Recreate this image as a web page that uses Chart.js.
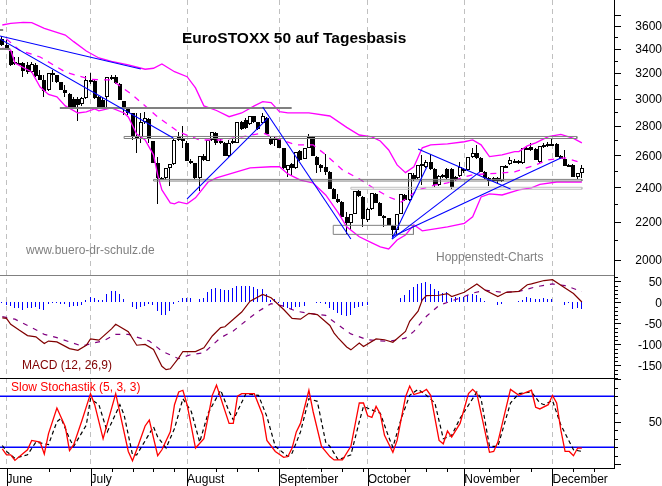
<!DOCTYPE html>
<html><head><meta charset="utf-8">
<style>html,body{margin:0;padding:0;background:#fff}canvas{display:block}</style>
<script src="https://cdn.jsdelivr.net/npm/chart.js@4"></script>
</head><body><canvas id="c" width="662" height="486" style="width:662px;height:486px"></canvas>
<script>
const monthIdx=[1,21,44,66,87,110,131];
const monthNames=['June','July','August','September','October','November','December'];
const weekIdx=[11,16,26,31,36,41,51,56,61,76,81,86,96,101,106,116,121,126,136,141];
const opens=[3485,3432,3381,3289,3280,3280,3264,3207,3264,3183,3143,3065,3191,3183,3127,3065,3035,2997,2997,2960,3004,3143,3135,3012,2989,3012,3159,3167,3111,2982,2930,2893,2724,2724,2828,2850,2696,2552,2457,2457,2520,2546,2724,2710,2683,2565,2552,2457,2597,2565,2703,2751,2696,2683,2597,2683,2683,2828,2842,2814,2871,2828,2821,2857,2717,2717,2710,2650,2507,2546,2520,2630,2578,2650,2724,2591,2539,2527,2495,2390,2331,2313,2228,2195,2245,2378,2342,2211,2273,2360,2308,2234,2222,2178,2156,2245,2354,2325,2476,2457,2533,2527,2558,2514,2414,2463,2514,2514,2463,2469,2514,2507,2591,2617,2584,2495,2457,2457,2457,2438,2527,2546,2565,2565,2552,2643,2656,2643,2558,2656,2663,2670,2676,2597,2578,2539,2539,2463,2488];
const highs=[3511,3476,3389,3330,3330,3289,3289,3289,3280,3223,3183,3199,3223,3183,3127,3104,3042,3012,3012,3012,3175,3199,3143,3019,3012,3167,3183,3183,3119,2982,2937,2893,2893,2893,2901,2857,2696,2591,2463,2520,2546,2717,2758,2800,2696,2578,2552,2597,2610,2703,2758,2758,2710,2690,2703,2717,2828,2835,2857,2871,2871,2828,2893,2864,2730,2724,2717,2650,2539,2552,2623,2636,2650,2744,2730,2597,2546,2610,2501,2396,2360,2319,2256,2245,2378,2384,2348,2279,2366,2366,2313,2240,2222,2184,2245,2360,2360,2488,2488,2539,2604,2571,2610,2520,2476,2482,2520,2520,2469,2558,2520,2591,2650,2670,2591,2501,2463,2463,2463,2533,2539,2591,2578,2571,2650,2663,2683,2650,2663,2683,2690,2717,2683,2604,2636,2546,2546,2488,2539];
const lows=[3424,3389,3256,3264,3264,3167,3191,3199,3167,3143,3012,3057,3127,3119,3065,3012,2930,2930,2835,2945,2997,3111,2997,2930,2930,2937,3143,3111,2989,2879,2879,2703,2617,2683,2814,2683,2552,2302,2451,2444,2408,2539,2696,2650,2565,2546,2451,2378,2565,2565,2696,2670,2676,2597,2591,2676,2683,2772,2779,2807,2821,2772,2814,2744,2670,2663,2650,2514,2463,2469,2514,2565,2578,2650,2597,2488,2495,2476,2390,2331,2308,2228,2135,2156,2245,2342,2173,2200,2267,2308,2234,2173,2184,2119,2129,2245,2319,2319,2440,2451,2414,2520,2507,2402,2408,2457,2451,2390,2438,2463,2488,2501,2584,2578,2495,2451,2408,2432,2420,2432,2520,2539,2552,2546,2546,2636,2630,2571,2552,2650,2656,2663,2591,2578,2533,2527,2463,2451,2457];
const closes=[3432,3398,3264,3272,3272,3215,3207,3272,3175,3143,3057,3199,3199,3127,3065,3042,2937,2937,2952,3004,3143,3127,3004,2937,2937,3167,3167,3119,2989,2930,2893,2724,2717,2828,2857,2710,2552,2457,2451,2520,2546,2703,2703,2703,2565,2552,2457,2597,2571,2703,2758,2683,2683,2597,2683,2696,2828,2779,2786,2871,2828,2779,2871,2744,2676,2703,2650,2520,2539,2520,2623,2571,2650,2724,2597,2539,2520,2495,2390,2331,2313,2228,2195,2245,2378,2348,2217,2273,2366,2308,2234,2222,2184,2156,2245,2360,2325,2488,2451,2539,2546,2558,2514,2414,2469,2476,2457,2402,2444,2527,2501,2591,2617,2584,2495,2457,2438,2438,2438,2533,2533,2571,2558,2558,2650,2650,2636,2571,2663,2670,2676,2676,2591,2578,2533,2533,2463,2488,2520];

const upperIdx=[0,2,5,7,10,15,17,20,23,26,30,34,36,38,41,44,46,48,51,54,57,60,62,64,66,68,73,78,82,85,88,90,92,94,96,98,100,102,106,110,112,114,116,119,122,123,125,127,130,133,136,138];
const upperVal=[3609,3624,3633,3630,3579,3519,3461,3381,3322,3293,3264,3229,3237,3272,3209,3169,3081,2945,2911,2866,2893,2945,2976,2969,2903,2893,2893,2871,2790,2737,2724,2696,2636,2539,2490,2527,2650,2670,2676,2691,2703,2670,2592,2604,2625,2625,2663,2683,2726,2741,2714,2683];
const lowerIdx=[0,2,3,7,9,11,13,15,18,20,22,23,26,29,30,32,34,36,37,38,40,41,42,44,46,49,51,55,59,64,66,68,71,74,77,80,82,85,88,90,92,94,96,98,100,103,106,110,112,114,116,119,123,126,128,132,138];
const lowerVal=[3406,3389,3280,3207,3088,3031,3012,2945,2893,2901,2922,2908,2930,2893,2864,2744,2703,2604,2476,2384,2308,2302,2313,2302,2337,2432,2457,2488,2520,2527,2527,2482,2444,2426,2354,2250,2173,2119,2087,2066,2055,2102,2129,2184,2151,2162,2173,2192,2228,2342,2360,2354,2384,2396,2417,2432,2432];
const midIdx=[1,4,9,15,21,26,31,37,42,47,52,57,62,65,70,74,77,81,85,88,92,95,99,103,106,110,112,115,119,122,127,130,134,138];
const midVal=[3485,3389,3330,3207,3147,3143,3027,2864,2758,2703,2703,2724,2751,2717,2670,2670,2604,2507,2451,2402,2342,2313,2384,2414,2426,2463,2476,2482,2488,2495,2539,2571,2584,2552];

const trendIdx=[[-0.55,33],[-0.55,40.7],[44,63.3],[62,83],[92.8,101.1],[92.8,113.7],[92.8,133],[99,121]];
const trendVal=[[3511,3231],[3485,2717],[2331,2857],[2937,2107],[2107,2527],[2107,2495],[2119,2584],[2643,2390]];

const thickLevelIdx=[[13.7,68.9],[-0.55,1.9],[-0.55,0.2]];
const thickLevelVal=[2930,3398,3564];
const boxIdx=[[29,136.8],[36,138],[83,138],[78.8,97.9]];
const boxTop=[2727,2448,2400,2181];
const boxBottom=[2713,2438,2388,2132];
const boxColors=['#808080','#808080','#c0c0c0','#808080'];

const macdHist=[-2,-7,-9,-13,-14,-17,-14,-13,-12,-15,-17,-5,-2,-2,-3,-5,-10,-9,-9,-7,5,12,11,5,6,19,26,27,21,7,0,-10,-15,-10,-9,-5,-7,-21,-31,-31,-21,-5,3,11,11,10,1,7,11,25,33,35,33,29,29,35,39,39,40,40,37,33,31,19,6,7,-1,-11,-14,-17,-11,-11,-9,0,0,-1,-2,-4,-13,-19,-25,-29,-33,-29,-13,-10,-8,-7,0,2,2,0,0,1,1,10,17,30,37,44,46,48,44,33,28,22,24,10,12,13,14,17,20,18,10,4,2,2,-6,-4,0,2,2,4,6,13,11,9,9,10,9,9,2,2,-6,-1,-15,-14,-15];
const macdIdx=[0,1,2,4,6,8,9,10,11,13,16,18,20,21,23,26,27,30,32,34,36,38,39,40,42,43,46,48,50,52,53,57,59,62,64,67,69,71,73,75,78,79,80,82,83,85,86,89,91,93,96,97,99,100,101,104,106,107,110,113,115,118,120,123,125,126,129,131,134,136,138];
const macdVal=[-37,-38,-52,-66,-79,-82,-90,-98,-92,-94,-110,-114,-102,-87,-90,-63,-52,-70,-102,-100,-112,-152,-160,-158,-132,-117,-117,-108,-80,-60,-58,-23,3,19,11,-17,-38,-40,-26,-29,-55,-73,-85,-106,-113,-97,-105,-87,-89,-95,-69,-45,-21,6,16,17,21,14,24,44,29,14,24,26,42,44,52,54,34,21,1];
const signalIdx=[0,3,7,10,13,16,19,22,24,27,30,35,38,42,45,48,52,55,58,61,64,67,70,73,77,78,81,83,87,92,96,98,101,104,110,112,115,119,123,127,131,134,138];
const signalVal=[-34,-40,-60,-76,-84,-94,-104,-96,-92,-76,-76,-92,-116,-134,-124,-120,-84,-68,-44,-21,-3,-9,-21,-26,-31,-39,-61,-75,-89,-93,-85,-69,-33,-7,14,22,29,24,26,37,44,40,26];

const stochKIdx=[0,1,2,3,5,6,7,9,10,11,13,15,16,17,19,21,22,24,27,30,31,32,34,35,37,38,40,41,42,43,44,46,48,50,51,54,55,56,57,60,62,63,65,67,68,69,70,71,73,74,76,78,79,81,83,85,86,87,88,89,90,91,93,94,96,97,98,100,101,102,104,105,106,107,109,111,112,113,116,117,118,121,123,126,127,128,130,131,132,133,134,135,136,137,138];
const stochKVal=[18,11,11,4.5,13,17,28,26,12,36,66,44,16,23,52,83,70,30,83,15,4,17,45,52,10,17,38,70,85,87,70,19,30,81,93,48,48,80,83,83,58,28,15,8,9,19,38,48,87,62,21,9,5,5,21,72,72,57,55,68,59,34,14,28,79,92,82,85,88,81,28,24,39,32,48,83,88,83,14,15,26,88,81,87,67,65,70,81,72,40,15,15,10,19,19];
const stochDIdx=[0,1,3,6,8,9,11,13,14,16,17,20,21,23,25,28,29,31,32,36,37,39,41,43,45,47,49,52,54,55,58,61,63,65,68,69,71,73,75,77,78,80,83,85,86,88,90,92,93,95,97,99,101,103,105,107,109,113,114,116,118,121,123,126,128,129,131,133,136,138];
const stochDVal=[22,15,7,11,26,25,23,50,54,30,21,46,77,70,38,70,58,11,11,44,32,19,42,77,62,26,60,87,62,52,83,81,56,21,9,13,38,77,74,26,21,5,11,50,68,64,60,32,20,54,81,88,81,72,30,34,54,85,77,21,21,72,83,85,72,70,75,46,17,15];
const stochLevels=[80,20];

const priceTicks=[2000,2100,2200,2300,2400,2500,2600,2700,2800,2900,3000,3100,3200,3300,3400,3500,3600,3700];
const priceMajor=[2000,2200,2400,2600,2800,3000,3200,3400,3600,3700];
const priceLabels=[2000,2200,2400,2600,2800,3000,3200,3400,3600];
const macdTicks=[60,50,40,30,20,10,0,-10,-20,-30,-40,-50,-60,-70,-80,-90,-100,-110,-120,-130,-140,-150,-160,-170,-180];
const macdLabels=[50,0,-50,-100,-150];
const stochTicks=[0,10,20,30,40,50,60,70,80,90,100];
const stochMajor=[0,50,100];
const stochLabels=[50];

const pts=(xs,ys)=>xs.map((x,k)=>({x,y:ys[k]}));
const line=(data,yAxisID,color,width,dash,order)=>({type:'line',data,yAxisID,borderColor:color,borderWidth:width,borderDash:dash||[],pointRadius:0,tension:0,fill:false,order:order,spanGaps:true});

const datasets=[
 {type:'bar',label:'wick',yAxisID:'y',grouped:false,order:20,backgroundColor:'#000',borderWidth:0,inflateAmount:0,
  data:highs.map((h,i)=>({x:i,y:[lows[i],h]}))},
 {type:'bar',label:'body',yAxisID:'y',grouped:false,order:19,inflateAmount:0,borderColor:'#000',borderWidth:1,borderSkipped:false,
  backgroundColor:closes.map((c,i)=>c>=opens[i]?'#fff':'#000'),
  data:opens.map((o,i)=>({x:i,y:[o,closes[i]]}))},
 line(pts(upperIdx,upperVal),'y','#ff00ff',1.3,[],6),
 line(pts(lowerIdx,lowerVal),'y','#ff00ff',1.3,[],6),
 line(pts(midIdx,midVal),'y','#ff00ff',1.3,[6,6],6),
];
trendIdx.forEach((xs,k)=>datasets.push(line(pts(xs,trendVal[k]),'y','#0000ff',1.1,[],4)));
thickLevelIdx.forEach((xs,k)=>datasets.push(line(pts(xs,[thickLevelVal[k],thickLevelVal[k]]),'y','#808080',2,[],5)));
boxIdx.forEach((xs,k)=>datasets.push(line(pts([xs[0],xs[1],xs[1],xs[0],xs[0]],[boxTop[k],boxTop[k],boxBottom[k],boxBottom[k],boxTop[k]]),'y',boxColors[k],1,[],5)));
datasets.push({type:'bar',label:'hist',yAxisID:'macd',grouped:false,order:8,backgroundColor:'#0000ff',borderWidth:0,inflateAmount:0,data:macdHist.map((v,i)=>({x:i,y:v}))});
datasets.push(line(pts(macdIdx,macdVal),'macd','#800000',1.2,[],3));
datasets.push(line(pts(signalIdx,signalVal),'macd','#800080',1.2,[5,6],3));
const xEnds=[-0.55,145.65];
stochLevels.forEach(v=>datasets.push(line(pts(xEnds,[v,v]),'stoch','#0000ff',1.5,[],3)));
datasets.push(line(pts(stochDIdx,stochDVal),'stoch','#000000',1.2,[4,3],2));
datasets.push(line(pts(stochKIdx,stochKVal),'stoch','#ff0000',1.3,[],1));

const FONT='"Liberation Sans", Arial, sans-serif';
const snap={id:'snap',afterDatasetsUpdate(chart){
  chart.data.datasets.forEach((d,i)=>{
    if(d.type!=='bar')return;
    chart.getDatasetMeta(i).data.forEach(el=>{
      const px=Math.round(el.x);
      let top=Math.round(Math.min(el.y,el.base)),bot=Math.round(Math.max(el.y,el.base));
      if(d.label==='body'){el.x=px;el.width=4;if(bot-top<2)bot=top+2;}
      else{el.x=px-0.5;el.width=1;}
      el.y=top;el.base=bot;
    });
  });
}};
const deco={id:'deco',afterDraw(chart){
  const c=chart.ctx,s=chart.scales,A=chart.chartArea;
  c.save();
  c.strokeStyle='#808080';c.lineWidth=1;
  c.beginPath();c.moveTo(A.left,Math.round(s.macd.top)+.5);c.lineTo(A.right,Math.round(s.macd.top)+.5);c.stroke();
  c.strokeStyle='#000';
  c.beginPath();c.moveTo(A.left,Math.round(s.stoch.top)+.5);c.lineTo(A.right,Math.round(s.stoch.top)+.5);c.stroke();
  const yt=(scale,vals,maj)=>{vals.forEach(v=>{const y=Math.round(scale.getPixelForValue(v))+.5;
     if(y<scale.top-0.5||y>scale.bottom+0.5)return;
     c.beginPath();c.moveTo(A.right,y);c.lineTo(A.right+(maj.includes(v)?7:4),y);c.stroke();});};
  yt(s.y,priceTicks,priceMajor);
  yt(s.macd,macdTicks,macdLabels);
  yt(s.stoch,stochTicks,stochMajor);
  monthIdx.forEach(v=>{const x=Math.round(s.x.getPixelForValue(v))+.5;c.beginPath();c.moveTo(x,A.bottom);c.lineTo(x,486);c.stroke();});
  weekIdx.forEach(v=>{const x=Math.round(s.x.getPixelForValue(v))+.5;c.beginPath();c.moveTo(x,A.bottom);c.lineTo(x,A.bottom+4);c.stroke();});
  const text=(t,x,y,font,col)=>{c.font=font+' '+FONT;c.fillStyle=col;c.textAlign='left';c.textBaseline='alphabetic';c.fillText(t,x,y);};
  text('EuroSTOXX 50 auf Tagesbasis',182,43,'bold 15.5px','#000');
  text('www.buero-dr-schulz.de',26,254,'12px','#808080');
  text('Hoppenstedt-Charts',436,261,'12px','#808080');
  text('MACD (12, 26,9)',22,369,'12px','#800000');
  text('Slow Stochastik (5, 3, 3)',11,391,'12px','#ff0000');
  c.restore();
}};
const fitRight=s=>{s.width=48;s.paddingTop=0;s.paddingBottom=0;};
const yCommon=()=>({position:'right',stack:'panels',grid:{display:false,drawTicks:false},border:{display:true,color:'#000',width:1},afterFit:fitRight});
const tickFont={family:FONT,size:12};
new Chart(document.getElementById('c'),{
 type:'bar',
 data:{datasets},
 plugins:[snap,deco],
 options:{responsive:false,animation:false,devicePixelRatio:1,events:[],
  layout:{padding:0,autoPadding:false},
  plugins:{legend:{display:false},tooltip:{enabled:false},title:{display:false}},
  scales:{
   x:{type:'linear',min:-0.55,max:145.65,offset:false,
      grid:{offset:false,color:'#c0c0c0',drawTicks:false,lineWidth:1},
      border:{display:true,color:'#000',dash:[5,4]},
      afterBuildTicks(s){s.ticks=monthIdx.map(v=>({value:v}));},
      afterFit(s){s.height=18;s.paddingLeft=0;s.paddingRight=0;},
      ticks:{align:'start',autoSkip:false,maxRotation:0,minRotation:0,padding:4,color:'#000',font:tickFont,
        callback:(v)=>monthNames[monthIdx.indexOf(v)]||''}},
   y:Object.assign(yCommon(),{type:'logarithmic',min:1925,max:3843,stackWeight:275,weight:1,
      afterBuildTicks(s){s.ticks=priceTicks.map(v=>({value:v}));},
      ticks:{autoSkip:false,crossAlign:'far',padding:18,labelOffset:1,color:'#000',font:tickFont,
        callback:(v)=>priceLabels.includes(v)?String(v):''}}),
   macd:Object.assign(yCommon(),{type:'linear',min:-180.7,max:65.2,stackWeight:103.3,weight:2,
      afterBuildTicks(s){s.ticks=macdTicks.map(v=>({value:v}));},
      ticks:{autoSkip:false,crossAlign:'far',padding:20.5,labelOffset:1,color:'#000',font:tickFont,
        callback:(v)=>macdLabels.includes(v)?String(v):''}}),
   stoch:Object.assign(yCommon(),{type:'linear',min:-4.47,max:101.06,stackWeight:89.7,weight:3,
      afterBuildTicks(s){s.ticks=stochTicks.map(v=>({value:v}));},
      ticks:{autoSkip:false,crossAlign:'far',padding:31,labelOffset:1,color:'#000',font:tickFont,
        callback:(v)=>stochLabels.includes(v)?String(v):''}})
  }
 }
});
</script></body></html>
